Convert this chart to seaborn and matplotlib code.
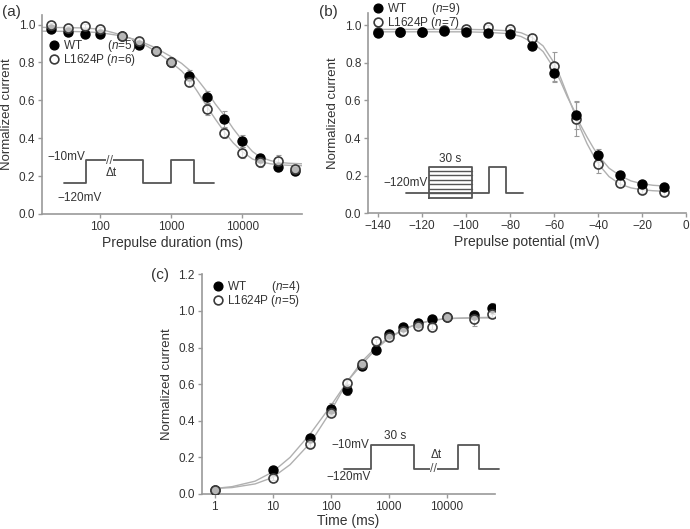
import numpy as np
import pandas as pd
import matplotlib
matplotlib.use("Agg")
import matplotlib.pyplot as plt
import seaborn as sns
from matplotlib.lines import Line2D
from matplotlib.ticker import FixedLocator, NullLocator, FixedFormatter

# ---- panel (a): prepulse duration ----
dur_ms = [20, 35, 60, 100, 200, 350, 600, 1000, 1800, 3200, 5600, 10000, 18000, 32000, 56000]
a_wt = [0.974, 0.961, 0.951, 0.951, 0.938, 0.891, 0.859, 0.801, 0.731, 0.615, 0.499, 0.385, 0.293, 0.246, 0.225]
a_wt_err = [0.01, 0.01, 0.01, 0.01, 0.01, 0.015, 0.015, 0.02, 0.03, 0.035, 0.045, 0.03, 0.025, 0.02, 0.015]
a_mut = [1.0, 0.984, 0.991, 0.977, 0.938, 0.912, 0.861, 0.80, 0.698, 0.555, 0.429, 0.323, 0.272, 0.278, 0.237]
a_mut_err = [0.01, 0.01, 0.01, 0.01, 0.01, 0.015, 0.015, 0.025, 0.02, 0.03, 0.03, 0.03, 0.025, 0.035, 0.015]
a_fit_x = [15, 30, 60, 100, 200, 350, 600, 1000, 1400, 1800, 2400, 3200, 4200, 5600, 7500, 10000, 14000, 18000, 25000, 32000, 45000, 70000]
a_fit_wt = [0.965, 0.964, 0.962, 0.957, 0.94, 0.915, 0.877, 0.83, 0.795, 0.76, 0.705, 0.645, 0.58, 0.52, 0.45, 0.39, 0.33, 0.30, 0.282, 0.273, 0.268, 0.265]
a_fit_mut = [0.985, 0.984, 0.982, 0.975, 0.945, 0.91, 0.86, 0.80, 0.755, 0.71, 0.64, 0.566, 0.50, 0.434, 0.375, 0.33, 0.29, 0.276, 0.265, 0.26, 0.257, 0.255]

# ---- panel (b): prepulse potential ----
pot_mv = [-140, -130, -120, -110, -100, -90, -80, -70, -60, -50, -40, -30, -20, -10]
b_wt = [0.959, 0.964, 0.966, 0.970, 0.966, 0.959, 0.956, 0.888, 0.748, 0.524, 0.309, 0.204, 0.158, 0.142]
b_wt_err = [0.01, 0.01, 0.01, 0.01, 0.01, 0.01, 0.01, 0.015, 0.05, 0.075, 0.035, 0.02, 0.015, 0.015]
b_mut = [0.962, 0.965, 0.966, 0.977, 0.982, 0.989, 0.980, 0.933, 0.781, 0.503, 0.261, 0.162, 0.123, 0.112]
b_mut_err = [0.01, 0.01, 0.01, 0.01, 0.01, 0.01, 0.01, 0.02, 0.075, 0.09, 0.045, 0.02, 0.015, 0.015]
b_fit_x = [-140, -120, -100, -90, -80, -75, -70, -65, -60, -57, -54, -51, -48, -45, -42, -39, -35, -30, -25, -20, -15, -10]
b_fit_wt = [0.965, 0.965, 0.965, 0.962, 0.955, 0.94, 0.91, 0.86, 0.77, 0.70, 0.62, 0.55, 0.47, 0.405, 0.345, 0.295, 0.24, 0.20, 0.172, 0.157, 0.149, 0.145]
b_fit_mut = [0.978, 0.978, 0.978, 0.976, 0.97, 0.96, 0.935, 0.89, 0.80, 0.72, 0.63, 0.54, 0.45, 0.37, 0.305, 0.25, 0.195, 0.155, 0.135, 0.125, 0.12, 0.117]

# ---- panel (c): recovery time ----
time_ms = [1, 10, 45, 100, 190, 350, 600, 1000, 1800, 3200, 5600, 10000, 30000, 60000]
c_wt = [0.022, 0.131, 0.308, 0.464, 0.568, 0.699, 0.785, 0.874, 0.914, 0.936, 0.954, 0.969, 0.978, 1.014]
c_wt_err = [0.005, 0.01, 0.015, 0.035, 0.03, 0.015, 0.015, 0.015, 0.015, 0.015, 0.015, 0.01, 0.015, 0.03]
c_mut = [0.022, 0.089, 0.273, 0.444, 0.605, 0.712, 0.834, 0.856, 0.890, 0.918, 0.914, 0.965, 0.954, 0.981]
c_mut_err = [0.005, 0.01, 0.015, 0.02, 0.02, 0.015, 0.015, 0.015, 0.015, 0.015, 0.015, 0.01, 0.035, 0.015]
c_fit_x = [1, 2, 5, 10, 20, 45, 100, 200, 350, 600, 1000, 2000, 3200, 5600, 10000, 30000, 60000]
c_fit_wt = [0.03, 0.04, 0.07, 0.12, 0.20, 0.33, 0.48, 0.62, 0.71, 0.79, 0.85, 0.905, 0.93, 0.948, 0.958, 0.963, 0.965]
c_fit_mut = [0.03, 0.035, 0.055, 0.09, 0.16, 0.28, 0.45, 0.62, 0.725, 0.80, 0.855, 0.905, 0.93, 0.948, 0.958, 0.962, 0.962]

n_a = (5, 6)
n_b = (9, 7)
n_c = (4, 5)

sns.set_theme(style="ticks")
plt.rcParams['font.family'] = ['Liberation Sans', 'DejaVu Sans']
plt.rcParams['mathtext.fontset'] = 'custom'
plt.rcParams['mathtext.rm'] = 'Liberation Sans'
plt.rcParams['mathtext.it'] = 'Liberation Sans:italic'

TXT = '#333333'
AXC = '#999999'
FIT = '#b0b0b0'
OPEN_FC = (1, 1, 1, 0.72)
OPEN_EC = '#3a3a3a'


def style_axes(ax):
    sns.despine(ax=ax)
    for s in ['left', 'bottom']:
        ax.spines[s].set_color(AXC)
        ax.spines[s].set_linewidth(1.2)
    ax.tick_params(direction='out', length=3, width=1, color=AXC,
                   labelcolor=TXT, labelsize=8.5, pad=2)
    ax.tick_params(which='minor', length=0)
    ax.set_ylabel('Normalized current', fontsize=9.5, color=TXT, labelpad=4)


def draw_series(ax, x, wt, wt_err, mut, mut_err, fit_x, fit_wt, fit_mut, wt_on_top=False):
    sns.lineplot(x=fit_x, y=fit_wt, ax=ax, color=FIT, lw=1, estimator=None, sort=False, zorder=1)
    sns.lineplot(x=fit_x, y=fit_mut, ax=ax, color=FIT, lw=1, estimator=None, sort=False, zorder=1)
    ax.errorbar(x, wt, yerr=wt_err, fmt='none', ecolor=AXC, elinewidth=0.8, capsize=1.8, capthick=0.8, zorder=2)
    ax.errorbar(x, mut, yerr=mut_err, fmt='none', ecolor=AXC, elinewidth=0.8, capsize=1.8, capthick=0.8, zorder=2)
    z_wt, z_mut = (4, 3) if wt_on_top else (3, 4)
    sns.scatterplot(x=x, y=wt, ax=ax, s=42, facecolor='black', edgecolor='black', linewidth=1, zorder=z_wt)
    sns.scatterplot(x=x, y=mut, ax=ax, s=42, facecolor=OPEN_FC, edgecolor=OPEN_EC, linewidth=1.2, zorder=z_mut)


def add_legend(ax, ns, anchor):
    h = [Line2D([], [], ls='', marker='o', ms=6.3, mfc='black', mec='black'),
         Line2D([], [], ls='', marker='o', ms=6.3, mfc='white', mec=OPEN_EC, mew=1.2)]
    labels = ['WT' + ' ' * 8 + r'($\it{n}$=%d)' % ns[0], r'L1624P ($\it{n}$=%d)' % ns[1]]
    leg = ax.legend(h, labels, loc='upper left', bbox_to_anchor=anchor, frameon=False,
                    fontsize=8.5, handlelength=0.8, handletextpad=0.4, labelspacing=-0.17,
                    borderaxespad=0, borderpad=0)
    leg.set_zorder(10)
    for t in leg.get_texts():
        t.set_color(TXT)


def proto_line(ax, xs, ys):
    ax.plot(xs, ys, transform=ax.transAxes, color='#555555', lw=1.3, clip_on=False, zorder=5)


def proto_text(ax, x, y, s, ha='center', bg=False):
    kw = dict(transform=ax.transAxes, ha=ha, va='center', fontsize=8.5, color=TXT, zorder=6)
    if bg:
        kw['bbox'] = dict(facecolor='white', edgecolor='none', pad=0)
        kw['fontsize'] = 9
        kw['color'] = '#555555'
    ax.text(x, y, s, **kw)


fig = plt.figure(figsize=(6.9, 5.29), dpi=100)

# ---------- (a) ----------
ax_a = fig.add_axes([0.0609, 0.5955, 0.3768, 0.376])
draw_series(ax_a, dur_ms, a_wt, a_wt_err, a_mut, a_mut_err, a_fit_x, a_fit_wt, a_fit_mut)
ax_a.set_xscale('log')
ax_a.set_xlim(15, 70000)
ax_a.set_ylim(0, 1.05)
ax_a.xaxis.set_major_locator(FixedLocator([100, 1000, 10000]))
ax_a.xaxis.set_major_formatter(FixedFormatter(['100', '1000', '10000']))
ax_a.xaxis.set_minor_locator(NullLocator())
ax_a.set_yticks(np.arange(0, 1.01, 0.2))
ax_a.set_yticklabels(['%.1f' % v for v in np.arange(0, 1.01, 0.2)])
style_axes(ax_a)
ax_a.set_xlabel('Prepulse duration (ms)', fontsize=10, color=TXT, labelpad=2)
add_legend(ax_a, n_a, (0.027, 0.884))
proto_line(ax_a, [0.085, 0.169, 0.169, 0.388, 0.388, 0.496, 0.496, 0.585, 0.585, 0.662],
           [0.156, 0.156, 0.271, 0.271, 0.156, 0.156, 0.271, 0.271, 0.156, 0.156])
proto_text(ax_a, 0.258, 0.268, '//', bg=True)
proto_text(ax_a, 0.168, 0.288, '\u221210mV', ha='right')
proto_text(ax_a, 0.265, 0.208, '\u0394t')
proto_text(ax_a, 0.06, 0.08, '\u2212120mV', ha='left')

# ---------- (b) ----------
ax_b = fig.add_axes([0.5338, 0.5968, 0.4604, 0.3786])
draw_series(ax_b, pot_mv, b_wt, b_wt_err, b_mut, b_mut_err, b_fit_x, b_fit_wt, b_fit_mut, wt_on_top=True)
ax_b.set_xlim(-144.5, 0)
ax_b.set_ylim(0, 1.065)
ax_b.set_xticks(np.arange(-140, 1, 20))
ax_b.set_yticks(np.arange(0, 1.01, 0.2))
ax_b.set_yticklabels(['%.1f' % v for v in np.arange(0, 1.01, 0.2)])
style_axes(ax_b)
ax_b.set_xlabel('Prepulse potential (mV)', fontsize=10, color=TXT, labelpad=2)
add_legend(ax_b, n_b, (0.015, 1.06))
box_l, box_r, box_b, box_t = 0.191, 0.327, 0.078, 0.233
proto_line(ax_b, [0.118, 0.380, 0.380, 0.432, 0.432, 0.488],
           [0.103, 0.103, 0.230, 0.230, 0.103, 0.103])
proto_line(ax_b, [box_l, box_r, box_r, box_l, box_l], [box_b, box_b, box_t, box_t, box_b])
for yy in np.linspace(box_b, box_t, 8)[1:-1]:
    ax_b.plot([box_l, box_r], [yy, yy], transform=ax_b.transAxes, color='#555555', lw=1.0, clip_on=False, zorder=5)
proto_text(ax_b, 0.258, 0.272, '30 s')
proto_text(ax_b, 0.186, 0.152, '\u2212120mV', ha='right')

# ---------- (c) ----------
ax_c = fig.add_axes([0.2923, 0.0662, 0.425, 0.4153])
draw_series(ax_c, time_ms, c_wt, c_wt_err, c_mut, c_mut_err, c_fit_x, c_fit_wt, c_fit_mut)
ax_c.set_xscale('log')
ax_c.set_xlim(0.6, 68000)
ax_c.set_ylim(0, 1.2)
ax_c.xaxis.set_major_locator(FixedLocator([1, 10, 100, 1000, 10000]))
ax_c.xaxis.set_major_formatter(FixedFormatter(['1', '10', '100', '1000', '10000']))
ax_c.xaxis.set_minor_locator(NullLocator())
ax_c.set_yticks(np.arange(0, 1.21, 0.2))
ax_c.set_yticklabels(['%.1f' % v for v in np.arange(0, 1.21, 0.2)])
style_axes(ax_c)
ax_c.set_xlabel('Time (ms)', fontsize=10, color=TXT, labelpad=1)
add_legend(ax_c, n_c, (0.039, 0.979))
proto_line(ax_c, [0.487, 0.578, 0.578, 0.725, 0.725, 0.873, 0.873, 0.945, 0.945, 1.015],
           [0.114, 0.114, 0.223, 0.223, 0.114, 0.114, 0.223, 0.223, 0.114, 0.114])
proto_text(ax_c, 0.79, 0.112, '//', bg=True)
proto_text(ax_c, 0.572, 0.223, '\u221210mV', ha='right')
proto_text(ax_c, 0.659, 0.262, '30 s')
proto_text(ax_c, 0.801, 0.178, '\u0394t')
proto_text(ax_c, 0.577, 0.076, '\u2212120mV', ha='right')

# panel letters
fig.text(0.003, 0.978, '(a)', fontsize=11, color=TXT, va='center', ha='left')
fig.text(0.463, 0.978, '(b)', fontsize=11, color=TXT, va='center', ha='left')
fig.text(0.245, 0.481, '(c)', fontsize=11, color=TXT, va='center', ha='right')

fig.savefig('out.png', dpi=100)
